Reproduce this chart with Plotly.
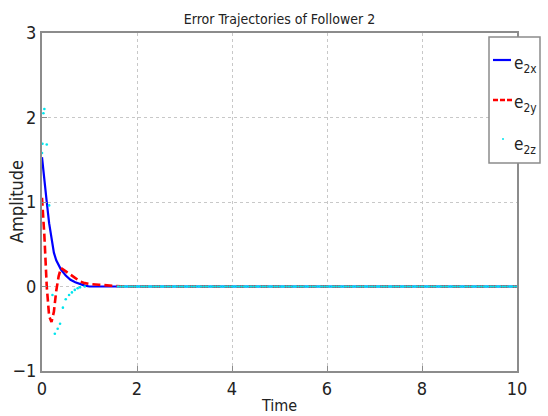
import numpy as np
import plotly.graph_objects as go

# Early transient samples
t_x = [0, 0.05, 0.1, 0.15, 0.2, 0.25, 0.3, 0.4, 0.5, 0.6, 0.7, 0.8, 0.9, 1.0]
e2x = [1.53, 1.22, 1.0, 0.75, 0.55, 0.4, 0.31, 0.2, 0.13, 0.08, 0.05, 0.03, 0.01, 0.0]

t_y = [0, 0.05, 0.1, 0.15, 0.2, 0.25, 0.3, 0.35, 0.4, 0.45, 0.5, 0.6, 0.7, 0.8, 0.9, 1.0, 1.2, 1.5]
e2y = [1.05, 0.6, 0.0, -0.35, -0.42, -0.3, -0.05, 0.12, 0.22, 0.2, 0.17, 0.14, 0.1, 0.06, 0.04, 0.03, 0.02, 0.005]

t_z = [0, 0.01, 0.03, 0.05, 0.1, 0.15, 0.22, 0.27, 0.33, 0.38, 0.44, 0.5, 0.57, 0.63, 0.69, 0.75, 0.8, 0.9]
e2z = [1.58, 1.69, 2.05, 2.1, 1.68, 0.96, -0.1, -0.56, -0.5, -0.44, -0.25, -0.15, -0.1, -0.07, -0.04, -0.02, -0.01, 0.0]

# Steady-state tail: all errors at zero
t_tail = np.round(np.arange(1.6, 10.0001, 0.05), 2)
zero_tail = np.zeros(len(t_tail))

x_ticks = [0, 2, 4, 6, 8, 10]
y_ticks = [-1, 0, 1, 2, 3]
y_tick_text = ["\u22121", "0", "1", "2", "3"]
legend_names = ["e<sub>2x</sub>", "e<sub>2y</sub>", "e<sub>2z</sub>"]

FONT = "DejaVu Sans Condensed, Liberation Sans Narrow, Liberation Sans, Arial, sans-serif"
BLUE, RED, CYAN = "#0000ff", "#ff0000", "#00e5ee"
GRAY = "#8c8c8c"

# plot area in pixels: x 42..517, y 33..371
W, H = 548, 416
L, R, T, B = 42, 31, 33, 45
PW, PH = W - L - R, H - T - B


def px(x):
    return (x - L) / PW


def py(y):
    return (H - B - y) / PH


fig = go.Figure()
fig.add_trace(go.Scatter(
    x=list(t_x) + list(t_tail), y=list(e2x) + list(zero_tail),
    mode="lines", name=legend_names[0],
    line=dict(color=BLUE, width=2.2)))
fig.add_trace(go.Scatter(
    x=list(t_y) + list(t_tail), y=list(e2y) + list(zero_tail),
    mode="lines", name=legend_names[1],
    line=dict(color=RED, width=2.6, dash="8px,4px")))
fig.add_trace(go.Scatter(
    x=list(t_z) + list(t_tail), y=list(e2z) + list(zero_tail),
    mode="markers", name=legend_names[2],
    marker=dict(color=CYAN, size=2.6)))

axis_common = dict(
    showgrid=True, gridcolor="#c8c8c8", griddash="dot", gridwidth=1,
    showline=True, linecolor=GRAY, linewidth=2, mirror=True,
    ticks="inside", ticklen=5, tickcolor=GRAY,
    zeroline=False,
    tickfont=dict(family=FONT, size=18, color="#222"),
)

shapes = [
    # legend box
    dict(type="rect", xref="paper", yref="paper",
         x0=px(489), x1=px(540), y0=py(163), y1=py(37),
         fillcolor="white", line=dict(color=GRAY, width=1.5), layer="above"),
    dict(type="line", xref="paper", yref="paper",
         x0=px(493), x1=px(511), y0=py(60), y1=py(60),
         line=dict(color=BLUE, width=2.2), layer="above"),
    dict(type="line", xref="paper", yref="paper",
         x0=px(493), x1=px(512), y0=py(100), y1=py(100),
         line=dict(color=RED, width=2.6, dash="5px,2px"), layer="above"),
    dict(type="circle", xref="paper", yref="paper",
         x0=px(502), x1=px(504), y0=py(140), y1=py(138),
         fillcolor=CYAN, line=dict(color=CYAN, width=0), layer="above"),
]

annotations = [
    dict(text=name, xref="paper", yref="paper", x=px(512), y=py(yc),
         xanchor="left", yanchor="middle", showarrow=False,
         font=dict(family=FONT, size=17, color="#222"))
    for name, yc in zip(legend_names, [64, 104, 145])
]
annotations.append(dict(
    text="Amplitude", xref="paper", yref="paper", x=px(16), y=0.5,
    xanchor="center", yanchor="middle", textangle=-90, showarrow=False,
    font=dict(family=FONT, size=18, color="#222")))

fig.update_layout(
    width=W, height=H,
    margin=dict(l=L, r=R, t=T, b=B, autoexpand=False),
    paper_bgcolor="white", plot_bgcolor="white",
    title=dict(text="Error Trajectories of Follower 2", x=0.5, xref="paper",
               y=1 - 19 / H, yanchor="middle",
               font=dict(family=FONT, size=14, color="#222")),
    xaxis=dict(range=[0, 10], tickvals=x_ticks,
               title=dict(text="Time", font=dict(family=FONT, size=16, color="#222"), standoff=2),
               **axis_common),
    yaxis=dict(range=[-1, 3], tickvals=y_ticks, ticktext=y_tick_text,
               **axis_common),
    shapes=shapes,
    annotations=annotations,
    showlegend=False,
)

fig.write_html("out.html")
